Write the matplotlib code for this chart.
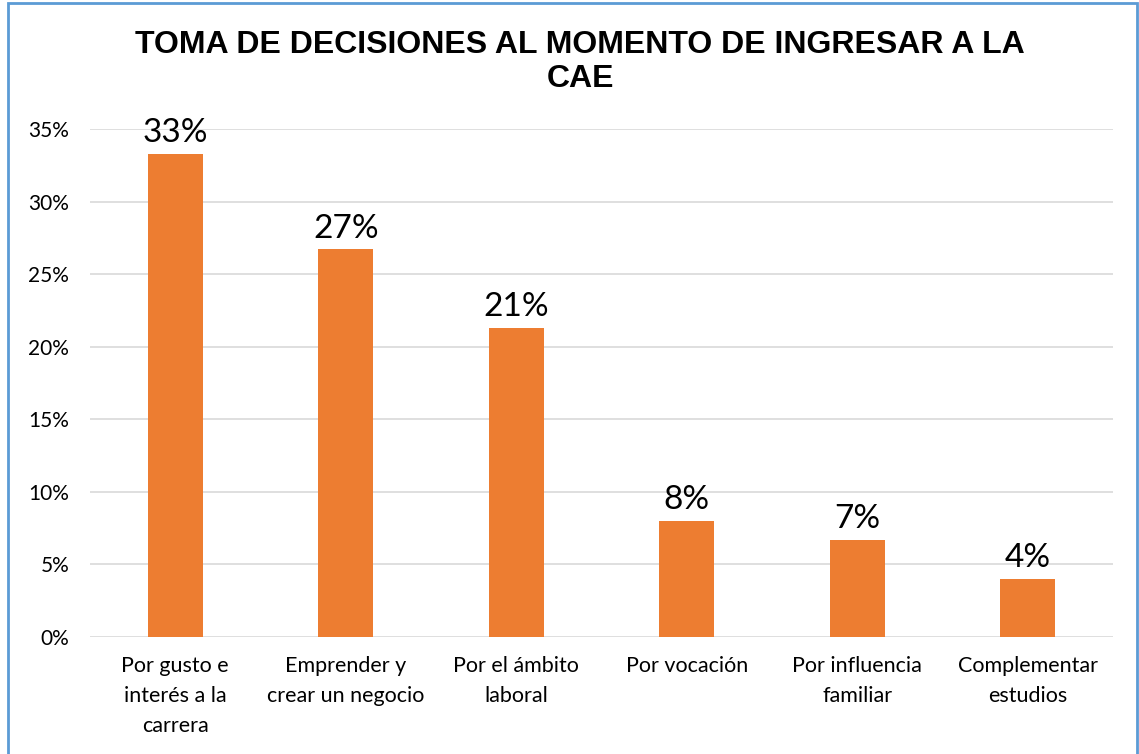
import matplotlib
matplotlib.use("Agg")
import matplotlib.pyplot as plt
from matplotlib.patches import Rectangle
from matplotlib.ticker import FuncFormatter, MultipleLocator

categories = ["Por gusto e\ninterés a la\ncarrera", "Emprender y\ncrear un negocio",
              "Por el ámbito\nlaboral", "Por vocación", "Por influencia\nfamiliar",
              "Complementar\nestudios"]
values = [0.333, 0.267, 0.213, 0.080, 0.067, 0.040]
value_labels = ["33%", "27%", "21%", "8%", "7%", "4%"]
title = "TOMA DE DECISIONES AL MOMENTO DE INGRESAR A LA\nCAE"

W, H = 1139, 754
fig = plt.figure(figsize=(W/100, H/100), dpi=100)
ax = fig.add_axes([90/W, 1-637/H, (1113-90)/W, (637-129)/H])

x = range(len(categories))
ax.bar(x, values, width=0.32, color="#ED7D31", zorder=3)
for xi, v, lab in zip(x, values, value_labels):
    ax.text(xi, v + 0.004, lab, ha="center", va="bottom", fontsize=24,
            family="Lato", color="black")

ax.set_xlim(-0.5, len(categories) - 0.5)
ax.set_ylim(0, 0.35)
ax.yaxis.set_major_locator(MultipleLocator(0.05))
ax.yaxis.set_major_formatter(FuncFormatter(lambda v, p: f"{v*100:.0f}%"))
ax.grid(axis="y", color="#D9D9D9", linewidth=1.2, zorder=0)
for s in ax.spines.values():
    s.set_visible(False)
ax.tick_params(axis="both", length=0)
ax.tick_params(axis="y", pad=15, labelsize=15)
ax.set_xticks(list(x))
ax.set_xticklabels(categories, fontsize=15.5, linespacing=1.6)
ax.tick_params(axis="x", pad=14)
for t in ax.get_yticklabels() + ax.get_xticklabels():
    t.set_family("Lato")

fig.text(580/W, 1-62/H, title, ha="center", va="center", fontsize=23,
         fontweight="bold", family="Liberation Sans", linespacing=1.15)

fig.patches.append(Rectangle((8/W, 1-(H+5)/H), (1137-8)/W, (H+5-3)/H,
                             transform=fig.transFigure, fill=False,
                             edgecolor="#5B9BD5", linewidth=2))
fig.savefig("out.png", dpi=100)
